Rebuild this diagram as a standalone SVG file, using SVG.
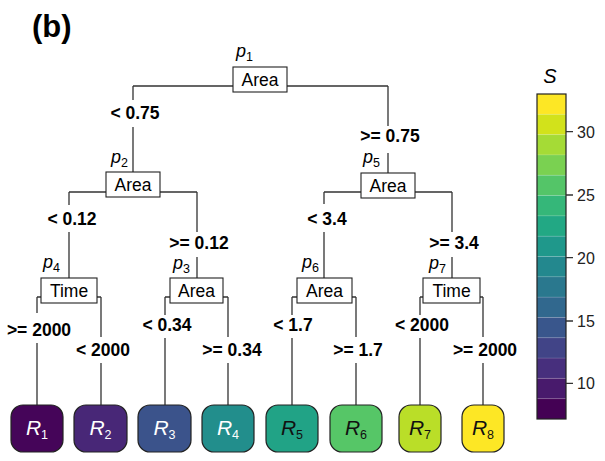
<svg xmlns="http://www.w3.org/2000/svg" width="605" height="461" viewBox="0 0 605 461">
<style>
.ln{stroke:#333;stroke-width:1.3;fill:none}
.box{fill:#fff;stroke:#222;stroke-width:1.1}
.bt{font-family:"Liberation Sans",Arial,sans-serif;font-size:17.5px;fill:#000;text-anchor:middle}
.el{font-family:"Liberation Sans",Arial,sans-serif;font-size:17.5px;font-weight:bold;fill:#000;text-anchor:middle}
.pl{font-family:"Liberation Sans",Arial,sans-serif;font-size:18px;font-style:italic;fill:#000}
.sub{font-size:12.5px;font-style:normal}
.leaf{stroke:#222;stroke-width:1.2}
.lt{font-family:"Liberation Sans",Arial,sans-serif;font-size:21px;font-style:italic;text-anchor:middle}
.tk{font-family:"Liberation Sans",Arial,sans-serif;font-size:16px;fill:#222}
.seg{stroke:rgba(255,255,255,0.18);stroke-width:0.8}
</style>
<rect width="605" height="461" fill="#fff"/>
<text x="32" y="37" font-family="'Liberation Sans',Arial,sans-serif" font-size="31" font-weight="bold">(b)</text>

<g id="connectors">
<path class="ln" d="M133,86H388 M133,86V100 M133,127V172 M388,86V126 M388,153V173"/>
<path class="ln" d="M69,192H197 M69,192V205 M69,232V278 M197,192V232 M197,257V278"/>
<path class="ln" d="M324,192H452 M324,192V204 M324,232V278 M452,192V232 M452,257V278"/>
<path class="ln" d="M37,297H101 M37,297V313 M37,343V405 M101,297V337 M101,363V405"/>
<path class="ln" d="M165,297H228 M165,297V315 M165,338V405 M228,297V337 M228,363V405"/>
<path class="ln" d="M292,297H356 M292,297V315 M292,338V405 M356,297V337 M356,363V405"/>
<path class="ln" d="M420,297H483 M420,297V315 M420,338V405 M483,297V337 M483,363V405"/>
<text class="el" x="135" y="119">&lt; 0.75</text>
<text class="el" x="390" y="142">&gt;= 0.75</text>
<text class="el" x="72" y="225">&lt; 0.12</text>
<text class="el" x="199" y="249">&gt;= 0.12</text>
<text class="el" x="327" y="225">&lt; 3.4</text>
<text class="el" x="454" y="249">&gt;= 3.4</text>
<text class="el" x="39" y="336">&gt;= 2000</text>
<text class="el" x="103" y="356">&lt; 2000</text>
<text class="el" x="167" y="331">&lt; 0.34</text>
<text class="el" x="232" y="356">&gt;= 0.34</text>
<text class="el" x="293" y="331">&lt; 1.7</text>
<text class="el" x="358" y="356">&gt;= 1.7</text>
<text class="el" x="422" y="331">&lt; 2000</text>
<text class="el" x="485" y="356">&gt;= 2000</text>
</g>

<g id="p1"><text class="pl" x="236" y="57">p<tspan class="sub" dy="4">1</tspan></text><rect class="box" x="233" y="67" width="54" height="25"/><text class="bt" x="260" y="86">Area</text></g>
<g id="p2"><text class="pl" x="111" y="163">p<tspan class="sub" dy="4">2</tspan></text><rect class="box" x="106" y="172" width="54" height="25"/><text class="bt" x="133" y="191">Area</text></g>
<g id="p5"><text class="pl" x="363" y="163">p<tspan class="sub" dy="4">5</tspan></text><rect class="box" x="361" y="173" width="54" height="25"/><text class="bt" x="388" y="192">Area</text></g>
<g id="p4"><text class="pl" x="43" y="268">p<tspan class="sub" dy="4">4</tspan></text><rect class="box" x="41" y="278" width="56" height="25"/><text class="bt" x="69" y="297">Time</text></g>
<g id="p3"><text class="pl" x="173" y="269">p<tspan class="sub" dy="4">3</tspan></text><rect class="box" x="170" y="278" width="53" height="25"/><text class="bt" x="196.5" y="297">Area</text></g>
<g id="p6"><text class="pl" x="302" y="268">p<tspan class="sub" dy="4">6</tspan></text><rect class="box" x="297" y="278" width="55" height="25"/><text class="bt" x="324.5" y="297">Area</text></g>
<g id="p7"><text class="pl" x="429" y="269">p<tspan class="sub" dy="4">7</tspan></text><rect class="box" x="423" y="278" width="57" height="25"/><text class="bt" x="451.5" y="297">Time</text></g>

<g id="R1"><rect class="leaf" x="11" y="405" width="52" height="47" rx="12" fill="#450559"/><text class="lt" x="37" y="435" fill="#fff">R<tspan class="sub" font-size="13.5" dy="4">1</tspan></text></g>
<g id="R2"><rect class="leaf" x="74" y="405" width="53" height="47" rx="12" fill="#482777"/><text class="lt" x="100.5" y="435" fill="#fff">R<tspan class="sub" font-size="13.5" dy="4">2</tspan></text></g>
<g id="R3"><rect class="leaf" x="138" y="405" width="53" height="47" rx="12" fill="#3B538B"/><text class="lt" x="164.5" y="435" fill="#fff">R<tspan class="sub" font-size="13.5" dy="4">3</tspan></text></g>
<g id="R4"><rect class="leaf" x="202" y="405" width="52" height="47" rx="12" fill="#228E8C"/><text class="lt" x="228" y="435" fill="#fff">R<tspan class="sub" font-size="13.5" dy="4">4</tspan></text></g>
<g id="R5"><rect class="leaf" x="266" y="405" width="52" height="47" rx="12" fill="#21A386"/><text class="lt" x="292" y="435" fill="#111">R<tspan class="sub" font-size="13.5" dy="4">5</tspan></text></g>
<g id="R6"><rect class="leaf" x="330" y="405" width="52" height="47" rx="12" fill="#56C667"/><text class="lt" x="356" y="435" fill="#111">R<tspan class="sub" font-size="13.5" dy="4">6</tspan></text></g>
<g id="R7"><rect class="leaf" x="399" y="405" width="42" height="47" rx="12" fill="#BADE28"/><text class="lt" x="420" y="435" fill="#111">R<tspan class="sub" font-size="13.5" dy="4">7</tspan></text></g>
<g id="R8"><rect class="leaf" x="462" y="405" width="42" height="47" rx="12" fill="#FDE725"/><text class="lt" x="483" y="435" fill="#111">R<tspan class="sub" font-size="13.5" dy="4">8</tspan></text></g>

<g id="colorbar">
<text x="550" y="83" font-family="'Liberation Sans',Arial,sans-serif" font-size="20" font-style="italic" text-anchor="middle">S</text>
<rect x="537" y="94" width="29" height="20.31" fill="#FDE725"/>
<rect x="537" y="114.31" width="29" height="20.31" fill="#D2E21B"/>
<rect x="537" y="134.62" width="29" height="20.31" fill="#A5DB36"/>
<rect x="537" y="154.94" width="29" height="20.31" fill="#7AD151"/>
<rect x="537" y="175.25" width="29" height="20.31" fill="#54C568"/>
<rect x="537" y="195.56" width="29" height="20.31" fill="#35B779"/>
<rect x="537" y="215.87" width="29" height="20.31" fill="#22A884"/>
<rect x="537" y="236.19" width="29" height="20.31" fill="#1F988B"/>
<rect x="537" y="256.5" width="29" height="20.31" fill="#23888E"/>
<rect x="537" y="276.81" width="29" height="20.31" fill="#2A788E"/>
<rect x="537" y="297.12" width="29" height="20.31" fill="#31688E"/>
<rect x="537" y="317.44" width="29" height="20.31" fill="#39568C"/>
<rect x="537" y="337.75" width="29" height="20.31" fill="#414487"/>
<rect x="537" y="358.06" width="29" height="20.31" fill="#472F7D"/>
<rect x="537" y="378.37" width="29" height="20.31" fill="#481A6C"/>
<rect x="537" y="398.69" width="29" height="20.31" fill="#440154"/>
<path class="seg" d="M537,114.31H566 M537,134.62H566 M537,154.94H566 M537,175.25H566 M537,195.56H566 M537,215.87H566 M537,236.19H566 M537,256.5H566 M537,276.81H566 M537,297.12H566 M537,317.44H566 M537,337.75H566 M537,358.06H566 M537,378.37H566 M537,398.69H566"/>
<rect x="537" y="94" width="29" height="325" fill="none" stroke="#222" stroke-width="1.2"/>
<path d="M566,131.7H573 M566,195H573 M566,257.7H573 M566,321H573 M566,383.3H573" stroke="#333" stroke-width="1.3"/>
<text class="tk" x="577" y="137.5">30</text>
<text class="tk" x="577" y="200.8">25</text>
<text class="tk" x="577" y="263.5">20</text>
<text class="tk" x="577" y="326.8">15</text>
<text class="tk" x="577" y="389.1">10</text>
</g>
</svg>
